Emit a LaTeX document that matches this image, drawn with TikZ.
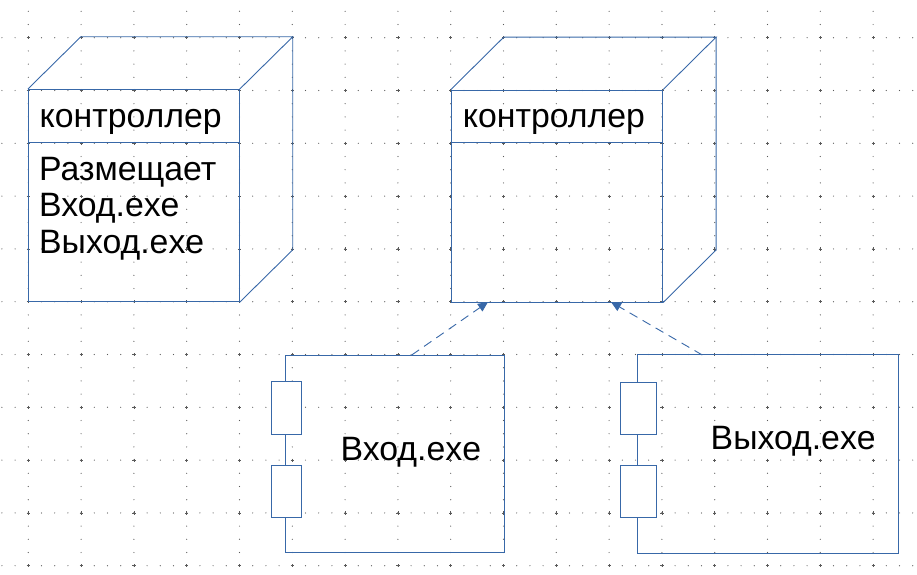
\documentclass[tikz,border=0pt]{standalone}
\usepackage{fontspec}
\setmainfont{Liberation Sans}
\usetikzlibrary{arrows.meta,calc}
\definecolor{linecol}{RGB}{56,104,168}
\definecolor{gridcol}{RGB}{90,90,90}
\tikzset{
  ln/.style={draw=linecol,line width=0.9pt},
  face/.style={ln,rectangle,inner sep=0pt},
  port/.style={ln,rectangle,fill=white,inner sep=0pt},
  dep/.style={draw=linecol,line width=0.9pt,dash pattern=on 9pt off 6pt,-{Triangle[length=10pt,width=9pt]}},
  lbl/.style={anchor=base west,inner sep=0pt,font=\fontsize{33.8}{36.7}\selectfont},
}
\begin{document}
\begin{tikzpicture}[x=1pt,y=-1pt]
\useasboundingbox (0,0) rectangle (917,574);
% dotted grid
\foreach \j in {0,...,10}{
  \foreach \m in {0,...,69}{
    \fill[gridcol] (1.9+13.2*\m,37.7+52.8*\j) circle (0.6pt);
  }
}
\foreach \k in {0,...,16}{
  \foreach \m in {0,...,42}{
    \fill[gridcol] (28.3+52.8*\k,11.3+13.2*\m) circle (0.6pt);
  }
  \foreach \j in {0,...,10}{
    \draw[gridcol,line width=0.5pt] (28.3+52.8*\k-1.6,37.7+52.8*\j) -- ++(3.2,0)
      (28.3+52.8*\k,37.7+52.8*\j-1.6) -- ++(0,3.2);
  }
}
% left node (3D box)
\node[face,minimum width=211pt,minimum height=212.2pt] (n1) at (133.8,195.6) {};
\draw[ln] (n1.north west) -- ++(53,-52.3) -- ($(n1.north east)+(53,-52.3)$) coordinate (n1b)
  -- (n1.north east);
\draw[ln] (n1b) -- ($(n1.south east)+(53,-52.3)$) -- (n1.south east);
\draw[ln] ($(n1.north west)+(0,53.8)$) coordinate (n1d) -- (n1d -| n1.east);
\node[lbl] (n1t) at (39.5,127.7) {контроллер};
\node[lbl] (n1l1) at (39,180) {Размещает};
\node[lbl] (n1l2) at (39,216.7) {Вход.exe};
\node[lbl] (n1l3) at (39,253.3) {Выход.exe};
% right node (3D box)
\node[face,minimum width=211.4pt,minimum height=212pt] (n2) at (557,196) {};
\draw[ln] (n2.north west) -- ++(53,-52.5) -- ($(n2.north east)+(53,-52.5)$) coordinate (n2b)
  -- (n2.north east);
\draw[ln] (n2b) -- ($(n2.south east)+(53,-52.5)$) -- (n2.south east);
\draw[ln] ($(n2.north west)+(0,53.3)$) coordinate (n2d) -- (n2d -| n2.east);
\node[lbl] (n2t) at (462.7,127.3) {контроллер};
% left component
\node[face,minimum width=218.6pt,minimum height=197.7pt] (c1) at (395,453.85) {};
\node[port,minimum width=30pt,minimum height=52.3pt] (c1p1) at (286.3,407.85) {};
\node[port,minimum width=30pt,minimum height=52pt] (c1p2) at (286.3,491.7) {};
\node[lbl] (c1t) at (340.5,460) {Вход.exe};
% right component
\node[face,minimum width=261.4pt,minimum height=198.3pt] (c2) at (768,453.85) {};
\node[port,minimum width=35.6pt,minimum height=52pt] (c2p1) at (638.5,408.3) {};
\node[port,minimum width=35.6pt,minimum height=52pt] (c2p2) at (638.5,491.7) {};
\node[lbl] (c2t) at (710.5,449.3) {Выход.exe};
% dependencies
\coordinate (a1s) at (411.7,355);
\coordinate (a1e) at (488,302);
\coordinate (a2s) at (702.3,355);
\coordinate (a2e) at (611,302);
\draw[dep] (a1s) -- (a1e);
\draw[dep] (a2s) -- (a2e);
\end{tikzpicture}
\end{document}
